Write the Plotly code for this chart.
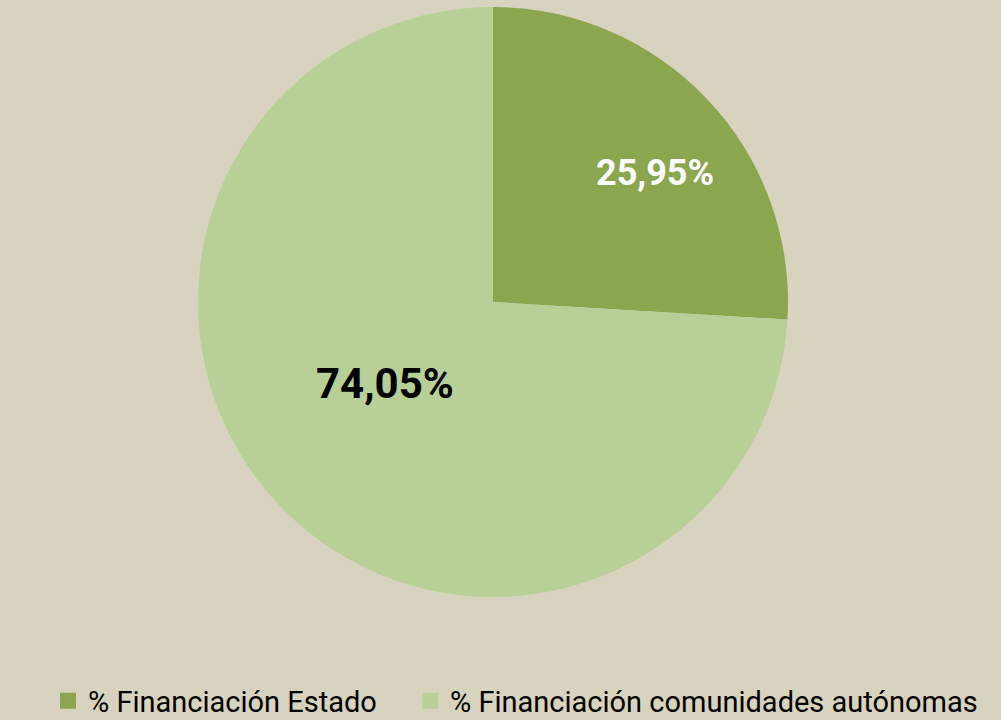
import math
import plotly.graph_objects as go

labels = ["% Financiación Estado", "% Financiación comunidades autónomas"]
values = [25.95, 74.05]
text_labels = ["25,95%", "74,05%"]
colors = ["#8BA64E", "#B9CF98"]
text_colors = ["#FFFFFF", "#000000"]
text_sizes = [36, 42]
label_radius = [0.70, 0.46]      # fraction of pie radius
label_angle_shift = [4.8, 6.3]   # degrees, clockwise

W, H = 1001, 720
cx, cy, R = 493, 302, 295  # pie centre / radius in px
legend_text_x = [88, 450]   # px where each legend text starts
legend_y = 701

fig = go.Figure(go.Pie(
    labels=labels,
    values=values,
    textinfo="none",
    marker=dict(colors=colors, line=dict(width=0)),
    sort=False,
    direction="clockwise",
    rotation=0,
    hole=0,
    showlegend=False,
    domain=dict(x=[(cx - R) / W, (cx + R) / W], y=[(H - cy - R) / H, (H - cy + R) / H]),
))

# legend entries (one legend box per entry so their spacing matches)
legend_names = ["legend", "legend2"]
for lab, col, lg in zip(labels, colors, legend_names):
    fig.add_trace(go.Scatter(
        x=[None], y=[None], mode="markers", name=lab,
        marker=dict(symbol="square", size=16, color=col),
        showlegend=True, legend=lg, hoverinfo="skip",
    ))

total = sum(values)
cum = 0.0
for v, t, col, sz, rf, sh in zip(values, text_labels, text_colors, text_sizes, label_radius, label_angle_shift):
    mid = (cum + v / 2) / total * 360 + sh
    cum += v
    px = cx + rf * R * math.sin(math.radians(mid))
    py = cy - rf * R * math.cos(math.radians(mid))
    fig.add_annotation(
        x=px / W, y=1 - py / H, xref="paper", yref="paper",
        text=f"<b>{t}</b>", showarrow=False,
        font=dict(family="Roboto", size=sz, color=col),
        xanchor="center", yanchor="middle",
    )

legend_style = dict(
    orientation="h", yanchor="middle", y=(H - legend_y) / H, xanchor="left",
    font=dict(family="Roboto", size=29, color="#000000"),
    itemwidth=30, bgcolor="rgba(0,0,0,0)", borderwidth=0,
)

fig.update_layout(
    width=W, height=H,
    margin=dict(l=0, r=0, t=0, b=0, autoexpand=False),
    paper_bgcolor="#D8D3BF",
    plot_bgcolor="#D8D3BF",
    xaxis=dict(visible=False),
    yaxis=dict(visible=False),
    legend=dict(x=(legend_text_x[0] - 40) / W, **legend_style),
    legend2=dict(x=(legend_text_x[1] - 40) / W, **legend_style),
)

fig.write_html("out.html", config={"displayModeBar": False},
               post_script="document.body.style.margin='0';document.body.style.background='#D8D3BF';")
